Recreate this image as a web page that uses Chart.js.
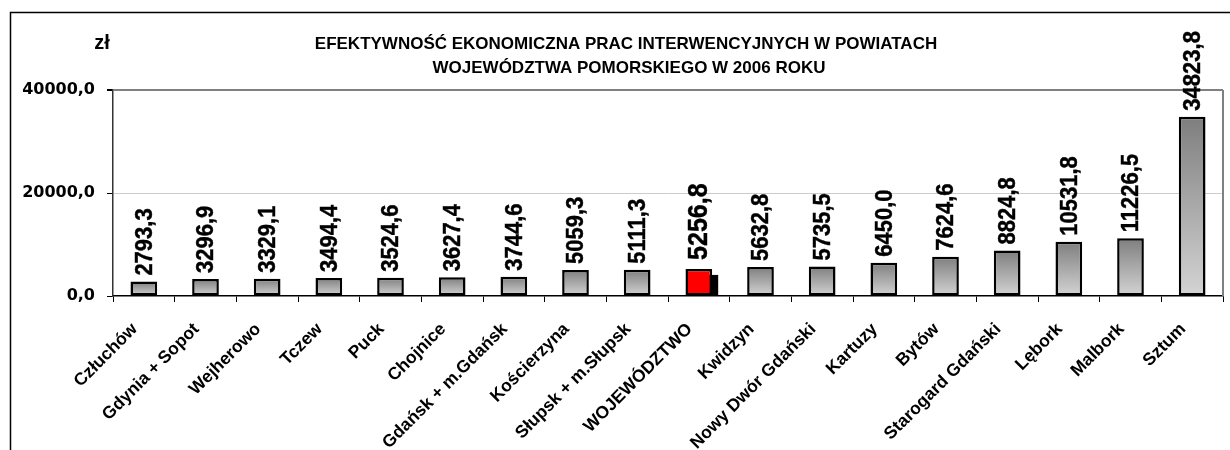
<!DOCTYPE html>
<html>
<head>
<meta charset="utf-8">
<script src="https://cdn.jsdelivr.net/npm/chart.js@4/dist/chart.umd.min.js"></script>
<style>
html,body{margin:0;padding:0;background:#fff;}
#wrap{width:1230px;height:450px;position:relative;}
</style>
</head>
<body>
<div id="wrap"><canvas id="c" width="1230" height="450"></canvas></div>
<script>
const categories = ["Człuchów","Gdynia + Sopot","Wejherowo","Tczew","Puck","Chojnice","Gdańsk + m.Gdańsk","Kościerzyna","Słupsk + m.Słupsk","WOJEWÓDZTWO","Kwidzyn","Nowy Dwór Gdański","Kartuzy","Bytów","Starogard Gdański","Lębork","Malbork","Sztum"];
const values = [2793.3,3296.9,3329.1,3494.4,3524.6,3627.4,3744.6,5059.3,5111.3,5256.8,5632.8,5735.5,6450.0,7624.6,8824.8,10531.8,11226.5,34823.8];
const yTicks = [0, 20000, 40000];
const titleLines = ["EFEKTYWNOŚĆ EKONOMICZNA PRAC INTERWENCYJNYCH W POWIATACH","WOJEWÓDZTWA POMORSKIEGO W 2006 ROKU"];
const unitLabel = "zł";
const highlightIndex = categories.indexOf("WOJEWÓDZTWO");

const fmt = v => v.toFixed(1).replace('.', ',');
const FONT = '"Liberation Sans", Arial, sans-serif';

const decor = {
  id: 'decor',
  beforeDatasetsDraw(chart) {
    const c = chart.ctx, a = chart.chartArea;
    c.save();
    c.strokeStyle = '#808080'; c.lineWidth = 2;
    c.beginPath(); c.moveTo(a.right, a.top); c.lineTo(a.right, a.bottom); c.stroke();
    const el = chart.getDatasetMeta(0).data[highlightIndex];
    if (el) {
      const p = el.getProps(['x','y','base','width'], true);
      c.fillStyle = '#000';
      c.fillRect(p.x - p.width/2 + 6, p.y + 6, p.width, p.base - p.y - 6);
    }
    c.restore();
  },
  afterDatasetsDraw(chart) {
    const c = chart.ctx;
    const meta = chart.getDatasetMeta(0);
    c.save();
    c.fillStyle = '#000';
    c.strokeStyle = '#000';
    c.lineWidth = 0.4;
    meta.data.forEach((el, i) => {
      const p = el.getProps(['x','y'], true);
      const big = i === highlightIndex;
      c.save();
      c.translate(p.x + 1, p.y - (big ? 9 : 6));
      c.rotate(-Math.PI/2);
      c.scale(1, 1.1);
      c.textAlign = 'left';
      c.textBaseline = 'middle';
      c.font = (big ? 'bold 25px ' : 'bold 22px ') + FONT;
      c.fillText(fmt(values[i]), 0, 0);
      c.strokeText(fmt(values[i]), 0, 0);
      c.restore();
    });
    c.restore();
  },
  afterDraw(chart) {
    const c = chart.ctx;
    c.save();
    c.strokeStyle = '#000'; c.lineWidth = 1.5;
    c.beginPath(); c.moveTo(10.5, 460); c.lineTo(10.5, 12.5); c.lineTo(1240, 12.5); c.stroke();
    c.fillStyle = '#000';
    c.font = 'bold 17px ' + FONT;
    c.textAlign = 'center'; c.textBaseline = 'alphabetic';
    c.fillText(titleLines[0], 626, 49);
    c.fillText(titleLines[1], 629, 72.5);
    c.font = 'bold 20px ' + FONT;
    c.fillText(unitLabel, 102, 49);
    c.restore();
  }
};

new Chart(document.getElementById('c'), {
  type: 'bar',
  data: {
    labels: categories,
    datasets: [{
      data: values,
      backgroundColor: (ctx) => {
        if (ctx.dataIndex === highlightIndex) return '#ff0000';
        const chart = ctx.chart;
        const y = chart.scales && chart.scales.y;
        if (!chart.chartArea || !y || ctx.raw == null) return '#aaaaaa';
        const top = y.getPixelForValue(ctx.raw), base = y.getPixelForValue(0);
        if (!isFinite(top) || !isFinite(base) || top === base) return '#aaaaaa';
        const g = chart.ctx.createLinearGradient(0, top, 0, base);
        g.addColorStop(0, '#7e7e7e');
        g.addColorStop(1, '#d4d4d4');
        return g;
      },
      borderColor: '#000',
      borderWidth: 2.5,
      borderSkipped: false,
      categoryPercentage: 1,
      barPercentage: 0.433
    }]
  },
  options: {
    responsive: false,
    animation: false,
    layout: { padding: { left: 0, top: 90, right: 7, bottom: 0 } },
    plugins: { legend: { display: false }, title: { display: false }, tooltip: { enabled: false } },
    scales: {
      x: {
        offset: true,
        grid: { display: true, offset: true, drawOnChartArea: false, drawTicks: true, tickLength: 6, color: '#000', lineWidth: 1 },
        border: { display: true, color: '#000', width: 1.5 },
        ticks: {
          autoSkip: false, maxRotation: 45, minRotation: 45, padding: 17, labelOffset: -9,
          color: '#000', font: { family: FONT, size: 17.5, weight: 'bold' }
        },
        afterFit(scale) { scale.height = 154; }
      },
      y: {
        min: 0, max: 40000,
        afterBuildTicks(scale) { scale.ticks = yTicks.map(v => ({ value: v })); },
        grid: {
          drawTicks: true, tickLength: 6, tickColor: '#000',
          color: (ctx) => ctx.tick && ctx.tick.value === 40000 ? '#808080' : (ctx.tick && ctx.tick.value === 0 ? 'rgba(0,0,0,0)' : '#cccccc'),
          lineWidth: (ctx) => ctx.tick && ctx.tick.value === 40000 ? 2 : 1
        },
        border: { display: true, color: '#333', width: 1.5 },
        ticks: {
          padding: 12, color: '#000',
          font: { family: '"DejaVu Sans", sans-serif', size: 16, weight: 'bold' },
          callback: (v) => fmt(v)
        },
        afterFit(scale) { scale.width = 113; }
      }
    }
  },
  plugins: [decor]
});
</script>
</body>
</html>
